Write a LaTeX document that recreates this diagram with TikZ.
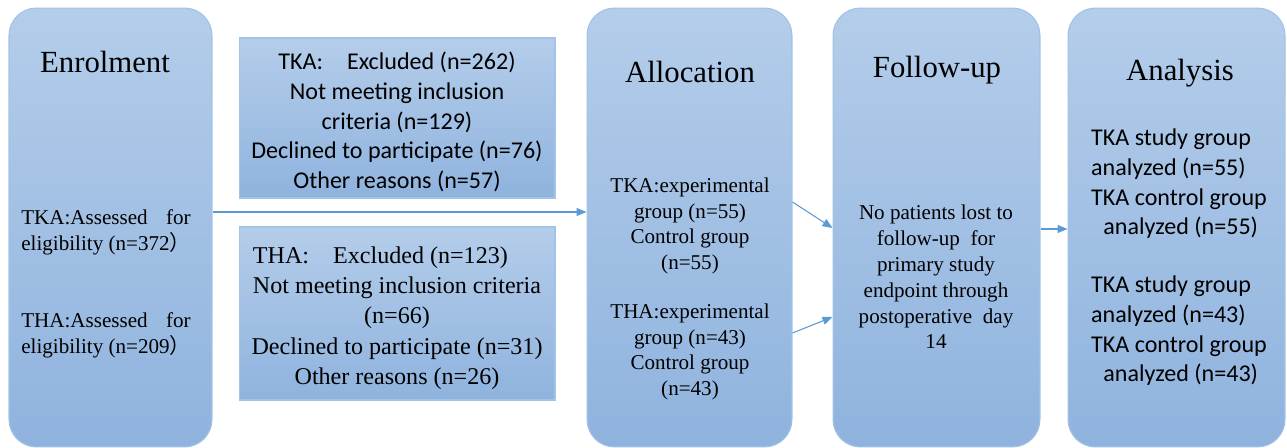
\documentclass[tikz,border=0pt]{standalone}
\usepackage{fontspec}
\usepackage{calc}
\setmainfont{Liberation Serif}
\setsansfont{Carlito}
\newfontfamily\cjk{Noto Sans CJK SC}
\usetikzlibrary{arrows.meta,positioning}
\definecolor{boxtop}{RGB}{180,205,234}
\definecolor{boxbot}{RGB}{143,179,222}
\definecolor{boxline}{RGB}{160,195,230}
\definecolor{arrowblue}{RGB}{91,155,213}
\tikzset{
  colbox/.style={draw=boxline, line width=0.6pt, rounded corners=0.55cm,
    top color=boxtop, bottom color=boxbot, inner sep=0pt},
  exbox/.style={draw=boxline, line width=0.6pt,
    top color=boxtop, bottom color=boxbot, inner sep=0pt},
  title/.style={font=\fontsize{17.5}{21}\selectfont, inner sep=0pt},
  serif/.style={font=\fontsize{12}{14.7}\selectfont, inner sep=0pt},
  bigserif/.style={font=\fontsize{13.7}{17.2}\selectfont, inner sep=0pt},
  sans/.style={font=\sffamily\fontsize{13.7}{16.9}\selectfont, inner sep=0pt},
  arr/.style={-{Triangle[length=2mm,width=1.6mm]}, arrowblue, line width=0.6pt}
}
\newcommand{\spreadline}[2]{\makebox[\widthof{#1}][s]{#2}}
\begin{document}
\begin{tikzpicture}[x=0.02cm,y=-0.02cm]
  \useasboundingbox (0,0) rectangle (1287,448);
  % column boxes
  \node[colbox, minimum width=4.06cm, minimum height=8.78cm] (enrol) at (110.5,227.5) {};
  \node[colbox, minimum width=4.10cm, minimum height=8.78cm] (alloc) at (689.5,227.5) {};
  \node[colbox, minimum width=4.14cm, minimum height=8.78cm] (follow) at (936.5,227.5) {};
  \node[colbox, minimum width=4.34cm, minimum height=8.78cm] (anal) at (1176.5,227.5) {};
  % exclusion boxes
  \node[exbox, minimum width=6.32cm, minimum height=3.20cm] (tkaex) at (397,118) {};
  \node[exbox, minimum width=6.32cm, minimum height=3.46cm] (thaex) at (397,313.5) {};
  % titles
  \node[title] (enroltitle) at (105,62) {Enrolment};
  \node[title] (alloctitle) at (690,72) {Allocation};
  \node[title] (followtitle) at (937,70) {Follow-up};
  \node[title] (analtitle) at (1180,73) {Analysis};
  % enrolment
  \node[serif, align=left] (tkaassess) at (106,232)
    {\spreadline{eligibility (n=372{\cjk ）}}{TKA:Assessed for}\\eligibility (n=372{\cjk ）}};
  \node[serif, align=left] (thaassess) at (106,335)
    {\spreadline{eligibility (n=209{\cjk ）}}{THA:Assessed for}\\eligibility (n=209{\cjk ）}};
  % exclusions
  \node[sans, align=center] (tkaextext) at (397,122)
    {TKA:\quad Excluded (n=262)\\Not meeting inclusion\\criteria (n=129)\\
     Declined to participate (n=76)\\Other reasons (n=57)};
  \node[bigserif, align=center] (thaextext) at (397,318)
    {\makebox[\widthof{Not meeting inclusion criteria}][l]{THA:\quad Excluded (n=123)}\\
     Not meeting inclusion criteria\\(n=66)\\
     Declined to participate (n=31)\\Other reasons (n=26)};
  % allocation
  \node[serif, align=center] (tkaalloc) at (690,226)
    {TKA:experimental\\group (n=55)\\Control group\\(n=55)};
  \node[serif, align=center] (thaalloc) at (690,352)
    {THA:experimental\\group (n=43)\\Control group\\(n=43)};
  % follow-up
  \node[serif, align=center] (followtext) at (936,277)
    {No patients lost to\\follow-up\ \ for\\primary study\\endpoint through\\
     postoperative\ \ day\\14};
  % analysis
  \node[sans, align=left] (tkaanal) at (1179,184)
    {TKA study group\\analyzed (n=55)\\TKA control group\\\hspace*{7pt}analyzed (n=55)};
  \node[sans, align=left] (thaanal) at (1179,331)
    {TKA study group\\analyzed (n=43)\\TKA control group\\\hspace*{7pt}analyzed (n=43)};
  % connectors
  \draw[arr] (enrol.east |- 0,212) -- (alloc.west |- 0,212);
  \draw[arr] (alloc.east |- 0,202) -- (follow.west |- 0,228);
  \draw[arr] (alloc.east |- 0,333) -- (follow.west |- 0,317);
  \draw[arr] (follow.east |- 0,229) -- (anal.west |- 0,229);
\end{tikzpicture}
\end{document}
